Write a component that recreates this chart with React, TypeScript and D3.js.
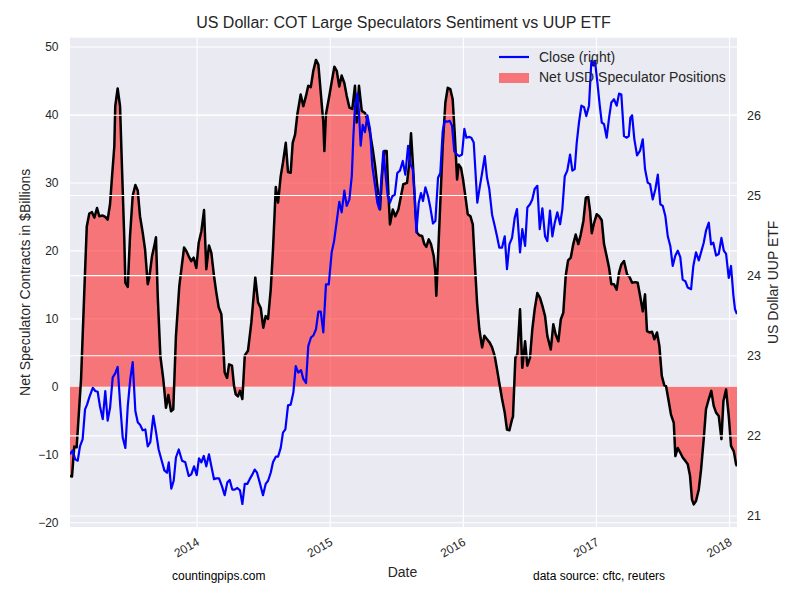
import React from "react";
import * as d3 from "d3";

const netYears = [2013.045,2013.060,2013.077,2013.095,2013.128,2013.153,2013.171,2013.190,2013.210,2013.228,2013.248,2013.265,2013.291,2013.310,2013.328,2013.346,2013.361,2013.378,2013.385,2013.403,2013.421,2013.436,2013.453,2013.461,2013.479,2013.496,2013.516,2013.536,2013.554,2013.571,2013.591,2013.609,2013.629,2013.641,2013.661,2013.678,2013.691,2013.704,2013.724,2013.746,2013.766,2013.784,2013.804,2013.821,2013.841,2013.866,2013.902,2013.919,2013.937,2013.956,2013.974,2013.994,2014.012,2014.032,2014.052,2014.069,2014.089,2014.107,2014.127,2014.144,2014.162,2014.182,2014.195,2014.207,2014.225,2014.240,2014.262,2014.277,2014.290,2014.307,2014.322,2014.340,2014.358,2014.382,2014.407,2014.437,2014.458,2014.478,2014.497,2014.515,2014.533,2014.553,2014.570,2014.591,2014.608,2014.628,2014.645,2014.666,2014.683,2014.703,2014.718,2014.736,2014.753,2014.778,2014.798,2014.818,2014.835,2014.854,2014.873,2014.893,2014.911,2014.931,2014.948,2014.956,2014.968,2014.993,2015.014,2015.031,2015.049,2015.068,2015.086,2015.106,2015.124,2015.144,2015.166,2015.186,2015.199,2015.216,2015.237,2015.261,2015.282,2015.299,2015.319,2015.337,2015.354,2015.374,2015.389,2015.406,2015.424,2015.437,2015.449,2015.470,2015.489,2015.512,2015.532,2015.549,2015.577,2015.594,2015.607,2015.622,2015.639,2015.652,2015.669,2015.690,2015.707,2015.722,2015.740,2015.757,2015.778,2015.790,2015.797,2015.810,2015.827,2015.845,2015.865,2015.883,2015.902,2015.920,2015.935,2015.953,2015.965,2015.983,2015.998,2016.015,2016.033,2016.053,2016.071,2016.086,2016.103,2016.120,2016.141,2016.158,2016.178,2016.198,2016.216,2016.236,2016.253,2016.270,2016.291,2016.311,2016.328,2016.346,2016.366,2016.373,2016.391,2016.406,2016.426,2016.443,2016.464,2016.481,2016.501,2016.518,2016.536,2016.556,2016.576,2016.594,2016.614,2016.631,2016.657,2016.676,2016.694,2016.714,2016.732,2016.751,2016.769,2016.787,2016.807,2016.826,2016.844,2016.864,2016.882,2016.902,2016.920,2016.937,2016.952,2016.965,2016.982,2017.002,2017.020,2017.040,2017.057,2017.077,2017.095,2017.112,2017.132,2017.152,2017.170,2017.187,2017.207,2017.231,2017.248,2017.268,2017.292,2017.310,2017.328,2017.348,2017.365,2017.380,2017.398,2017.418,2017.435,2017.455,2017.473,2017.491,2017.510,2017.523,2017.540,2017.560,2017.581,2017.593,2017.611,2017.630,2017.648,2017.668,2017.686,2017.703,2017.718,2017.731,2017.748,2017.769,2017.786,2017.806,2017.823,2017.844,2017.863,2017.881,2017.899,2017.919,2017.939,2017.954,2017.974,2017.994,2018.011,2018.032,2018.049,2018.056];
const netValues = [-13.1,-13.2,-8.8,-8.9,1.1,14.3,23.6,25.5,25.7,24.9,26.3,25.1,25.2,25.0,24.6,26.9,31.0,35.4,41.3,43.9,41.3,32.0,21.7,15.3,14.7,22.2,28.1,29.7,28.9,25.1,22.7,20.2,15.1,16.1,19.2,20.7,22.0,13.4,4.5,1.1,-3.1,-1.2,-3.6,-3.3,7.5,14.8,20.5,20.0,19.2,18.5,19.0,17.5,21.2,22.9,26.0,17.3,20.8,19.7,16.3,13.9,11.7,10.7,6.5,2.1,1.3,3.3,3.1,0.2,-1.1,-1.4,-0.6,-1.8,4.6,5.3,9.4,16.1,12.4,11.6,8.7,10.4,10.0,14.3,20.2,29.4,27.1,31.0,33.0,35.9,31.6,31.5,35.9,37.1,40.1,43.0,41.3,42.8,44.3,44.1,46.5,48.1,47.4,42.8,38.9,34.7,40.1,42.8,45.2,47.1,46.5,44.2,45.8,44.7,42.8,41.1,40.9,44.3,38.9,44.3,40.6,40.3,39.1,37.4,35.0,32.5,29.5,26.1,31.0,34.7,34.7,28.5,23.9,26.1,25.1,26.1,28.1,29.8,30.0,33.0,37.3,32.5,26.1,22.7,22.3,22.2,21.0,20.6,21.7,21.0,19.2,16.8,13.4,19.2,27.1,35.4,41.8,44.0,43.8,42.3,37.4,30.5,32.7,32.2,30.5,28.1,25.4,25.1,23.9,18.3,12.4,8.5,5.8,7.5,7.0,6.5,5.8,4.5,2.6,0.6,-1.8,-3.8,-6.3,-6.4,-4.8,-4.4,4.3,4.8,11.4,2.8,6.7,3.1,4.3,8.4,11.4,13.8,13.1,11.9,10.4,7.5,5.5,9.2,7.7,6.7,9.9,10.9,16.3,18.6,19.0,21.0,22.4,21.0,22.4,24.4,27.8,28.1,25.9,22.6,24.1,25.4,25.1,24.5,21.0,19.2,17.5,15.1,15.1,14.3,16.8,18.0,18.5,16.5,16.2,15.3,15.4,15.3,13.4,11.1,13.6,8.2,8.0,8.1,7.0,8.0,6.0,1.6,0.2,0.1,-1.8,-4.1,-5.3,-10.2,-9.0,-9.7,-10.4,-10.9,-11.4,-13.1,-16.6,-17.3,-16.8,-15.1,-12.2,-7.7,-3.3,-1.8,-0.6,-2.8,-3.8,-4.3,-7.7,-2.1,-0.4,-4.3,-8.7,-9.5,-11.4,-11.7];

const closeYears = [2013.045,2013.065,2013.083,2013.103,2013.120,2013.140,2013.158,2013.173,2013.190,2013.216,2013.235,2013.253,2013.270,2013.291,2013.310,2013.328,2013.346,2013.366,2013.385,2013.403,2013.423,2013.441,2013.461,2013.479,2013.498,2013.516,2013.536,2013.554,2013.571,2013.591,2013.611,2013.629,2013.648,2013.671,2013.691,2013.711,2013.734,2013.754,2013.774,2013.787,2013.806,2013.824,2013.841,2013.862,2013.887,2013.911,2013.937,2013.956,2013.977,2013.997,2014.014,2014.032,2014.050,2014.069,2014.089,2014.107,2014.127,2014.144,2014.165,2014.187,2014.207,2014.227,2014.245,2014.264,2014.282,2014.302,2014.322,2014.340,2014.358,2014.377,2014.395,2014.412,2014.433,2014.450,2014.470,2014.495,2014.515,2014.533,2014.553,2014.570,2014.591,2014.608,2014.628,2014.645,2014.663,2014.683,2014.703,2014.723,2014.741,2014.760,2014.781,2014.798,2014.818,2014.835,2014.856,2014.873,2014.893,2014.911,2014.929,2014.948,2014.968,2014.989,2015.011,2015.029,2015.049,2015.068,2015.086,2015.106,2015.124,2015.144,2015.162,2015.174,2015.186,2015.204,2015.216,2015.229,2015.244,2015.261,2015.279,2015.299,2015.316,2015.337,2015.354,2015.369,2015.382,2015.399,2015.417,2015.432,2015.449,2015.467,2015.485,2015.504,2015.524,2015.545,2015.564,2015.585,2015.602,2015.620,2015.635,2015.647,2015.665,2015.682,2015.697,2015.715,2015.735,2015.752,2015.772,2015.790,2015.810,2015.827,2015.845,2015.860,2015.877,2015.898,2015.915,2015.932,2015.953,2015.970,2015.990,2016.008,2016.023,2016.041,2016.060,2016.078,2016.090,2016.105,2016.123,2016.141,2016.161,2016.178,2016.195,2016.216,2016.236,2016.253,2016.270,2016.291,2016.311,2016.328,2016.346,2016.366,2016.386,2016.403,2016.426,2016.443,2016.464,2016.481,2016.501,2016.518,2016.536,2016.556,2016.574,2016.594,2016.614,2016.631,2016.651,2016.669,2016.687,2016.706,2016.727,2016.744,2016.762,2016.781,2016.802,2016.819,2016.837,2016.852,2016.869,2016.887,2016.907,2016.924,2016.944,2016.962,2016.977,2016.989,2017.007,2017.025,2017.040,2017.057,2017.077,2017.095,2017.112,2017.132,2017.152,2017.170,2017.187,2017.207,2017.228,2017.243,2017.255,2017.268,2017.285,2017.305,2017.328,2017.348,2017.365,2017.385,2017.403,2017.423,2017.443,2017.461,2017.480,2017.498,2017.518,2017.536,2017.555,2017.573,2017.593,2017.611,2017.630,2017.648,2017.668,2017.686,2017.711,2017.728,2017.748,2017.769,2017.786,2017.806,2017.823,2017.844,2017.861,2017.878,2017.899,2017.919,2017.939,2017.957,2017.974,2017.994,2018.011,2018.029,2018.041,2018.056];
const closeValues = [21.77,21.82,21.71,21.69,21.87,21.96,22.33,22.39,22.48,22.60,22.56,22.55,22.37,22.21,22.56,22.19,22.35,22.73,22.78,22.86,22.37,21.98,21.85,22.37,22.71,22.92,22.31,22.17,22.14,22.07,22.08,21.87,21.92,22.25,22.05,21.83,21.69,21.57,21.54,21.67,21.34,21.44,21.73,21.83,21.69,21.67,21.50,21.52,21.62,21.51,21.72,21.67,21.75,21.62,21.77,21.62,21.46,21.47,21.47,21.37,21.26,21.42,21.45,21.33,21.33,21.35,21.32,21.15,21.40,21.40,21.46,21.51,21.58,21.54,21.42,21.26,21.40,21.44,21.54,21.67,21.74,21.74,21.85,22.04,22.08,22.38,22.39,22.54,22.87,22.79,22.82,22.71,22.66,23.12,23.23,23.25,23.33,23.55,23.55,23.29,23.89,23.89,24.29,24.43,24.68,24.92,24.79,25.06,24.87,24.95,25.24,25.74,26.10,26.27,26.03,25.62,25.88,25.79,26.00,25.83,25.37,25.12,24.91,24.83,25.16,25.55,25.24,24.99,24.91,24.99,25.01,25.28,25.31,25.43,25.26,25.62,25.39,25.33,24.99,24.54,24.91,25.03,24.93,25.10,24.99,24.85,24.65,24.68,25.22,25.28,25.80,25.93,25.92,25.93,25.87,25.55,25.51,25.49,25.51,25.83,25.72,25.73,25.72,25.66,25.33,24.91,25.10,25.28,25.49,25.22,25.08,24.76,24.62,24.49,24.35,24.35,24.49,24.08,24.39,24.47,24.72,24.83,24.29,24.58,24.37,24.85,24.89,24.95,25.08,25.12,24.58,24.84,24.49,24.43,24.81,24.49,24.66,24.79,24.64,24.83,25.24,25.31,25.51,25.31,25.33,25.66,25.91,26.12,26.10,25.99,26.12,26.68,26.62,26.68,26.41,26.12,25.91,25.89,25.72,25.97,26.16,26.20,26.12,26.27,26.26,25.74,25.72,25.74,25.97,26.00,25.70,25.50,25.56,25.70,25.33,25.16,25.14,24.95,25.08,25.26,24.89,24.87,24.74,24.49,24.37,24.12,24.25,24.31,24.23,23.95,23.93,23.85,23.83,24.12,24.29,24.19,24.29,24.41,24.56,24.66,24.39,24.41,24.25,24.27,24.47,24.31,24.27,23.97,24.12,23.75,23.58,23.52];

const leftTicks = [-20, -10, 0, 10, 20, 30, 40, 50];
const rightTicks = [21, 22, 23, 24, 25, 26];
const yearTicks = [2014, 2015, 2016, 2017, 2018];

const W = 800, H = 598;
const L = 70, R = 737, T = 37.7, B = 527;
const FONT = "'Liberation Sans', Arial, sans-serif";
const TXT = "#262626";

export default function App() {
  const x = d3.scaleLinear().domain([2013.045, 2018.056]).range([L, R]);
  const yL = d3.scaleLinear().domain([-20.63, 51.37]).range([B, T]);
  const yR = d3.scaleLinear().domain([20.863, 26.968]).range([B, T]);

  const net = netYears.map((t, i) => ({ t, v: netValues[i] }));
  const close = closeYears.map((t, i) => ({ t, v: closeValues[i] }));

  const area = d3.area<{ t: number; v: number }>()
    .x(d => x(d.t)).y0(yL(0)).y1(d => yL(d.v));
  const netLine = d3.line<{ t: number; v: number }>()
    .x(d => x(d.t)).y(d => yL(d.v));
  const closeLine = d3.line<{ t: number; v: number }>()
    .x(d => x(d.t)).y(d => yR(d.v));

  return (
    <svg width={W} height={H} style={{ position: "absolute", left: 0, top: 0, background: "#fff" }} fontFamily={FONT}>
      <defs>
        <clipPath id="plotclip"><rect x={L} y={T} width={R - L} height={B - T} /></clipPath>
      </defs>
      <rect x={L} y={T} width={R - L} height={B - T} fill="#EAEAF2" />
      {leftTicks.map(t => (
        <line key={"gl" + t} x1={L} x2={R} y1={yL(t)} y2={yL(t)} stroke="#fff" strokeWidth={1.1} />
      ))}
      {yearTicks.map(t => (
        <line key={"gx" + t} x1={x(t)} x2={x(t)} y1={T} y2={B} stroke="#fff" strokeWidth={1.1} />
      ))}
      <g clipPath="url(#plotclip)">
        <path d={area(net) || ""} fill="#ff0000" fillOpacity={0.5} stroke="none" />
        <path d={netLine(net) || ""} fill="none" stroke="#000" strokeWidth={2.5} strokeLinejoin="round" />
      </g>
      {rightTicks.map(t => (
        <line key={"gr" + t} x1={L} x2={R} y1={yR(t)} y2={yR(t)} stroke="#fff" strokeWidth={1.1} />
      ))}
      <g clipPath="url(#plotclip)">
        <path d={closeLine(close) || ""} fill="none" stroke="#0000ff" strokeWidth={2.2} strokeLinejoin="round" />
      </g>

      {/* left ticks */}
      {leftTicks.map(t => (
        <text key={"tl" + t} x={58.5} y={yL(t)} dy="0.35em" textAnchor="end" fontSize={12} fill={TXT}>
          {t < 0 ? "\u2212" + Math.abs(t) : t}
        </text>
      ))}
      {rightTicks.map(t => (
        <text key={"tr" + t} x={747} y={yR(t)} dy="0.35em" textAnchor="start" fontSize={12.5} fill={TXT}>
          {t}
        </text>
      ))}
      {yearTicks.map(t => (
        <text key={"tx" + t} transform={`translate(${x(t) - 1},${B + 10}) rotate(-30)`} textAnchor="end" dy="0.71em" fontSize={12} fill={TXT}>
          {t}
        </text>
      ))}

      <text x={(L + R) / 2} y={28} textAnchor="middle" fontSize={16} fill={TXT}>
        US Dollar: COT Large Speculators Sentiment vs UUP ETF
      </text>
      <text x={(L + R) / 2 - 1} y={577} textAnchor="middle" fontSize={14} fill={TXT}>Date</text>
      <text x={172} y={580} fontSize={12} fill="#000">countingpips.com</text>
      <text x={533} y={580} fontSize={12} fill="#000">data source: cftc, reuters</text>
      <text transform={`translate(30,${(T + B) / 2}) rotate(-90)`} textAnchor="middle" fontSize={14} fill={TXT}>
        Net Speculator Contracts in $Billions
      </text>
      <text transform={`translate(778,${(T + B) / 2}) rotate(-90)`} textAnchor="middle" fontSize={14} fill={TXT}>
        US Dollar UUP ETF
      </text>

      {/* legend */}
      <line x1={499} x2={529} y1={57} y2={57} stroke="#0000ff" strokeWidth={2.2} />
      <text x={539} y={62} fontSize={14} fill={TXT}>Close (right)</text>
      <rect x={499} y={73} width={30} height={10} fill="#ff0000" fillOpacity={0.5} />
      <text x={539} y={82} fontSize={14} fill={TXT}>Net USD Speculator Positions</text>
    </svg>
  );
}
